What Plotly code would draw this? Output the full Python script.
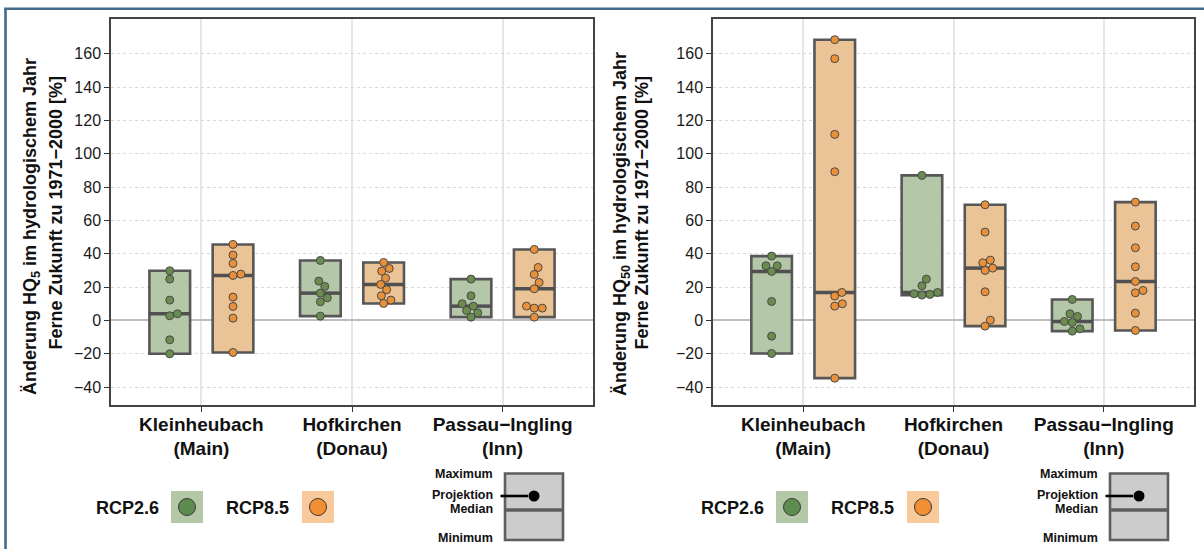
import numpy as np
import plotly.graph_objects as go

W, H = 1204, 549
FONT = "Liberation Sans, Arial, Helvetica, sans-serif"

# ---------------- data ----------------
stations = ["Kleinheubach<br>(Main)", "Hofkirchen<br>(Donau)", "Passau\u2212Ingling<br>(Inn)"]
scenarios = ["RCP2.6", "RCP8.5"]
y_ticks = [-40, -20, 0, 20, 40, 60, 80, 100, 120, 140, 160]

# change of HQ5 [%], one list per station
hq5_rcp26 = [
    [29.8, 24.8, 12.2, 4.0, 2.8, -11.6, -20.0],
    [36.0, 23.6, 20.4, 16.4, 13.6, 11.2, 2.6],
    [24.8, 14.8, 10.0, 8.6, 6.0, 4.6, 2.0],
]
hq5_rcp85 = [
    [45.6, 39.2, 34.2, 27.8, 27.0, 14.0, 8.4, 1.4, -19.2],
    [34.8, 31.2, 29.6, 25.4, 21.6, 18.4, 14.8, 12.2, 10.2],
    [42.6, 31.8, 27.6, 22.8, 19.0, 8.6, 7.4, 7.4, 2.0],
]
# change of HQ50 [%], one list per station
hq50_rcp26 = [
    [38.6, 32.8, 32.8, 29.4, 11.4, -9.4, -19.8],
    [87.0, 24.8, 20.8, 16.8, 16.0, 15.6, 15.2],
    [12.6, 4.0, 2.4, -0.6, -1.2, -5.0, -6.4],
]
hq50_rcp85 = [
    [168.4, 157.0, 111.6, 89.2, 16.8, 14.6, 10.0, 8.6, -34.6],
    [69.4, 53.0, 36.2, 34.6, 31.4, 30.0, 17.2, 0.2, -3.4],
    [71.0, 56.6, 43.6, 32.2, 23.4, 18.0, 16.6, 4.4, -6.0],
]

# ---------------- styles ----------------
box_fill = {"RCP2.6": "#b5c7a9", "RCP8.5": "#eac497"}
pt_fill = {"RCP2.6": "#6a8c4f", "RCP8.5": "#e8913a"}
key_fill = {"RCP2.6": "#b4c8a8", "RCP8.5": "#f8c99b"}
key_pt = {"RCP2.6": "#5e8b50", "RCP8.5": "#f28e33"}
dodge = {"RCP2.6": -0.21, "RCP8.5": 0.21}
box_w = 0.27

X_RANGE = [0.4, 3.6]
Y_RANGE = [-50.7, 180.8]
PLOT_TOP, PLOT_BOT = 19, 405
panels_px = [(111, 593), (713, 1194)]


def px(x):
    return x / W


def py(y):
    return 1 - y / H


def swarm(values, xpx_per_unit, ypx_per_unit, d=8.0):
    """simple beeswarm: returns x offsets (data units)"""
    order = np.argsort(values)
    placed = []
    offs = np.zeros(len(values))
    for i in order:
        y = values[i] * ypx_per_unit
        cands = [0.0]
        for (xp, yp) in placed:
            dy = abs(y - yp)
            if dy < d:
                dx = np.sqrt(d * d - dy * dy)
                cands += [xp + dx, xp - dx]
        cands = sorted(cands, key=lambda c: (abs(c), -c))
        for c in cands:
            ok = all((c - xp) ** 2 + (y - yp) ** 2 >= d * d * 0.98 for (xp, yp) in placed)
            if ok:
                break
        placed.append((c, y))
        offs[i] = c / xpx_per_unit
    return offs


fig = go.Figure()

panel_data = [
    {"RCP2.6": hq5_rcp26, "RCP8.5": hq5_rcp85},
    {"RCP2.6": hq50_rcp26, "RCP8.5": hq50_rcp85},
]

for p, (pdata, (x0, x1)) in enumerate(zip(panel_data, panels_px)):
    xa = "x" if p == 0 else "x2"
    ya = "y" if p == 0 else "y2"
    xppu = (x1 - x0) / (X_RANGE[1] - X_RANGE[0])
    yppu = (PLOT_BOT - PLOT_TOP) / (Y_RANGE[1] - Y_RANGE[0])
    for sc in scenarios:
        for k, vals in enumerate(pdata[sc]):
            v = np.array(vals, dtype=float)
            xc = k + 1 + dodge[sc]
            fig.add_trace(go.Box(
                x=[xc], q1=[v.min()], median=[np.median(v)], q3=[v.max()],
                lowerfence=[v.min()], upperfence=[v.max()],
                width=box_w, fillcolor=box_fill[sc],
                line=dict(color="#575757", width=2.6),
                boxpoints=False, hoverinfo="skip", showlegend=False,
                xaxis=xa, yaxis=ya,
            ))
            # thicker median bar
            fig.add_trace(go.Scatter(
                x=[xc - box_w / 2, xc + box_w / 2], y=[np.median(v)] * 2, mode="lines",
                line=dict(color="#505050", width=3.4), hoverinfo="skip", showlegend=False,
                xaxis=xa, yaxis=ya,
            ))
        for k, vals in enumerate(pdata[sc]):
            v = np.array(vals, dtype=float)
            offs = swarm(v, xppu, yppu)
            fig.add_trace(go.Scatter(
                x=k + 1 + dodge[sc] + offs, y=v, mode="markers",
                marker=dict(size=8, color=pt_fill[sc], line=dict(color="#4a4a4a", width=1)),
                hoverinfo="skip", showlegend=False, xaxis=xa, yaxis=ya,
            ))

axis_common_x = dict(
    range=X_RANGE, tickvals=[1, 2, 3], ticktext=stations,
    tickfont=dict(family=FONT, size=19, color="#111", weight="bold"),
    ticks="outside", ticklen=5, tickcolor="#333", tickwidth=1.2,
    ticklabelstandoff=-4,
    showgrid=True, gridcolor="#e6e6e6", gridwidth=1.5,
    showline=True, mirror=True, linecolor="#444", linewidth=1.5,
    zeroline=False, fixedrange=True,
)
axis_common_y = dict(
    range=Y_RANGE, tickvals=y_ticks,
    tickfont=dict(family=FONT, size=16, color="#1a1a1a"),
    ticks="outside", ticklen=5, tickcolor="#333", tickwidth=1.2,
    showgrid=True, gridcolor="#d9d9d9", gridwidth=1, griddash="dot",
    zeroline=True, zerolinecolor="#bdbdbd", zerolinewidth=1.5,
    showline=True, mirror=True, linecolor="#444", linewidth=1.5,
    fixedrange=True,
)

fig.update_layout(
    width=W, height=H, margin=dict(l=0, r=0, t=0, b=0),
    paper_bgcolor="white", plot_bgcolor="white",
    font=dict(family=FONT, color="#111"),
    boxmode="overlay",
    xaxis=dict(domain=[px(panels_px[0][0]), px(panels_px[0][1])], anchor="y", **axis_common_x),
    yaxis=dict(domain=[py(PLOT_BOT), py(PLOT_TOP)], anchor="x", **axis_common_y),
    xaxis2=dict(domain=[px(panels_px[1][0]), px(panels_px[1][1])], anchor="y2", **axis_common_x),
    yaxis2=dict(domain=[py(PLOT_BOT), py(PLOT_TOP)], anchor="x2", **axis_common_y),
)

shapes = []
annos = []

# outer frame
frame_col = "#416d8a"
shapes.append(dict(type="line", xref="paper", yref="paper", x0=px(5.5), x1=px(5.5),
                   y0=py(8.7), y1=py(H + 10), line=dict(color=frame_col, width=2.6)))
shapes.append(dict(type="line", xref="paper", yref="paper", x0=px(4.2), x1=px(W + 10),
                   y0=py(8.7), y1=py(8.7), line=dict(color=frame_col, width=2.6)))

# y titles
titles = [
    ("Änderung HQ<sub>5</sub> im hydrologischem Jahr", 31, 227),
    ("Ferne Zukunft zu 1971\u22122000 [%]", 55, 212.5),
    ("Änderung HQ<sub>50</sub> im hydrologischem Jahr", 621, 224),
    ("Ferne Zukunft zu 1971\u22122000 [%]", 641, 212.5),
]
for t, x, y in titles:
    annos.append(dict(text=t, x=px(x), y=py(y), xref="paper", yref="paper",
                      xanchor="center", yanchor="middle", textangle=-90, showarrow=False,
                      font=dict(family=FONT, size=18, color="#111", weight="bold")))

# bottom legends (drawn for both panels)
for off in (0, 605):
    for sc, tx, sq in (("RCP2.6", 94, 171), ("RCP8.5", 224, 302)):
        annos.append(dict(text=sc, x=px(tx + off), y=py(508), xref="paper", yref="paper",
                          xanchor="left", yanchor="middle", showarrow=False,
                          font=dict(family=FONT, size=18, color="#111", weight="bold")))
        shapes.append(dict(type="rect", xref="paper", yref="paper",
                           x0=px(sq + off), x1=px(sq + 32 + off), y0=py(523), y1=py(491),
                           fillcolor=key_fill[sc], line=dict(width=0)))
        cx = sq + 16 + off
        shapes.append(dict(type="circle", xref="paper", yref="paper",
                           x0=px(cx - 8.5), x1=px(cx + 8.5), y0=py(515.5), y1=py(498.5),
                           fillcolor=key_pt[sc], line=dict(color="#3a3a3a", width=1)))
    # schematic box
    bx0, bx1 = 505 + off, 563 + off
    shapes.append(dict(type="rect", xref="paper", yref="paper", x0=px(bx0), x1=px(bx1),
                       y0=py(540), y1=py(473.5), fillcolor="#cccccc",
                       line=dict(color="#5e5e5e", width=2.6)))
    shapes.append(dict(type="line", xref="paper", yref="paper", x0=px(bx0), x1=px(bx1),
                       y0=py(510), y1=py(510), line=dict(color="#5e5e5e", width=3.4)))
    shapes.append(dict(type="line", xref="paper", yref="paper", x0=px(500.5 + off), x1=px(528 + off),
                       y0=py(496), y1=py(496), line=dict(color="black", width=2.6)))
    shapes.append(dict(type="circle", xref="paper", yref="paper",
                       x0=px(528.5 + off), x1=px(539.5 + off), y0=py(501.5), y1=py(490.5),
                       fillcolor="black", line=dict(color="black", width=0)))
    for lab, ly in (("Maximum", 474), ("Projektion", 495), ("Median", 508.5), ("Minimum", 537.5)):
        annos.append(dict(text=lab, x=px(494.5 + off), y=py(ly), xref="paper", yref="paper",
                          xanchor="right", yanchor="middle", showarrow=False,
                          font=dict(family=FONT, size=12.5, color="#111", weight="bold")))

fig.update_layout(shapes=shapes, annotations=annos)
fig.write_html("out.html", config={"displayModeBar": False},
               post_script="document.body.style.margin='0';")
